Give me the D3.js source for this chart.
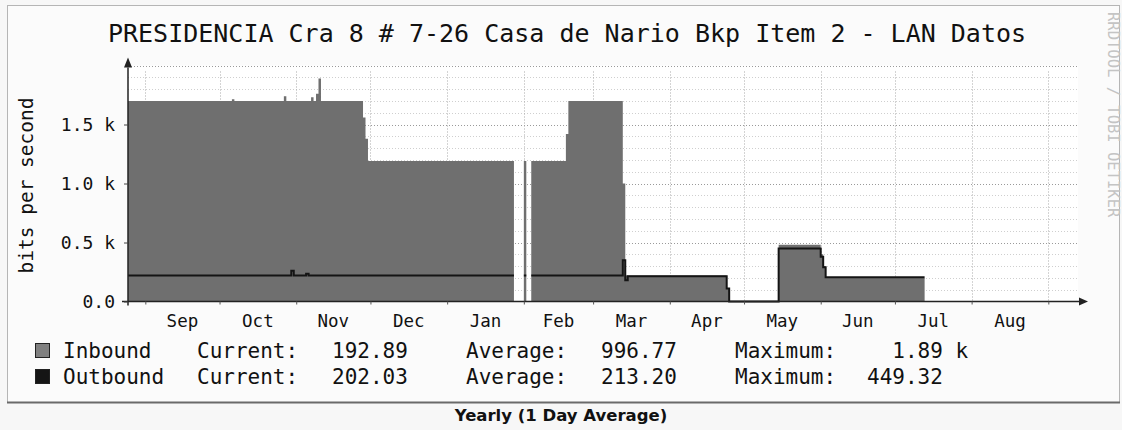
<!DOCTYPE html>
<html>
<head>
<meta charset="utf-8">
<script src="https://cdn.jsdelivr.net/npm/d3@7"></script>
<style>
  html, body { margin: 0; padding: 0; background: #f7f7f7; }
  svg { display: block; }
</style>
</head>
<body>
<div id="chart"></div>
<script>
// Yearly traffic graph (1 day average), values in bits per second
const title = 'PRESIDENCIA Cra 8 # 7-26 Casa de Nario Bkp Item 2 - LAN Datos';
const subtitle = 'Yearly (1 Day Average)';
const yLabel = 'bits per second';
const watermark = 'RRDTOOL / TOBI OETIKER';

const period = ['2012-08-25', '2013-09-13'];
const monthLabels = ['Sep', 'Oct', 'Nov', 'Dec', 'Jan', 'Feb', 'Mar', 'Apr', 'May', 'Jun', 'Jul', 'Aug'];
const yTicks = [0, 500, 1000, 1500];
const yTickLabels = ['0.0', '0.5 k', '1.0 k', '1.5 k'];

// step data: value holds from this date until the next entry (null = unknown)
const inboundSteps = [
  ['2012-08-25', 1700], ['2012-10-06', 1715], ['2012-10-07', 1700],
  ['2012-10-27', 1740], ['2012-10-28', 1700], ['2012-11-07', 1730],
  ['2012-11-08', 1700], ['2012-11-09', 1760], ['2012-11-10', 1890],
  ['2012-11-11', 1700], ['2012-11-28', 1560], ['2012-11-29', 1380],
  ['2012-11-30', 1190], ['2013-01-28', null], ['2013-02-01', 1190],
  ['2013-02-02', null], ['2013-02-04', 1190], ['2013-02-18', 1420],
  ['2013-02-19', 1700], ['2013-03-13', 1000], ['2013-03-14', 220],
  ['2013-04-24', 110], ['2013-04-25', 0], ['2013-05-15', 480],
  ['2013-06-01', 400], ['2013-06-02', 300], ['2013-06-03', 200],
  ['2013-07-13', null]
];
const outboundSteps = [
  ['2012-08-25', 220], ['2012-10-30', 260], ['2012-10-31', 220],
  ['2012-11-05', 235], ['2012-11-06', 220], ['2013-01-28', null],
  ['2013-02-01', 220], ['2013-02-02', null], ['2013-02-04', 220],
  ['2013-03-13', 350], ['2013-03-14', 180], ['2013-03-15', 215],
  ['2013-04-24', 110], ['2013-04-25', 0], ['2013-05-15', 449],
  ['2013-06-01', 380], ['2013-06-02', 290], ['2013-06-03', 205],
  ['2013-07-13', null]
];

const legendNames = ['Inbound', 'Outbound'];
const legendColors = ['#808080', '#151515'];
const currentVals = ['192.89', '202.03'];
const averageVals = ['996.77', '213.20'];
const maximumVals = ['  1.89 k', '449.32'];

const W = 1122, H = 430;
const plot = { left: 128, right: 1078, top: 65.5, bottom: 301.5 };
const mono = 'DejaVu Sans Mono, monospace';

const parse = d3.utcParse('%Y-%m-%d');

const svg = d3.select('#chart').append('svg')
  .attr('width', W).attr('height', H);

svg.append('rect').attr('width', W).attr('height', H).attr('fill', '#f7f7f7');

// frame
svg.append('rect')
  .attr('x', 7.5).attr('y', 5.5).attr('width', 1112).attr('height', 397)
  .attr('fill', '#fbfbfb').attr('stroke', '#b5b5b5');
svg.append('line')
  .attr('x1', 7).attr('x2', 1120).attr('y1', 402.5).attr('y2', 402.5)
  .attr('stroke', '#6a6a6a').attr('stroke-width', 2);

const x = d3.scaleUtc().domain(period.map(parse)).range([plot.left, plot.right]);
const y = d3.scaleLinear().domain([0, 2000]).range([plot.bottom, plot.top]);

svg.append('rect')
  .attr('x', plot.left).attr('y', plot.top)
  .attr('width', plot.right - plot.left).attr('height', plot.bottom - plot.top)
  .attr('fill', '#ffffff');

// grid
const g = svg.append('g');
d3.range(100, 2001, 100).forEach(v => {
  const major = v % 500 === 0;
  g.append('line')
    .attr('x1', plot.left).attr('x2', plot.right)
    .attr('y1', Math.round(y(v)) + 0.5).attr('y2', Math.round(y(v)) + 0.5)
    .attr('stroke', major ? '#9a9a9a' : '#cfcfcf')
    .attr('stroke-dasharray', '1,2');
});
const monthStarts = d3.utcMonth.range(...period.map(parse));
monthStarts.forEach(d => {
  g.append('line')
    .attr('x1', Math.round(x(d)) + 0.5).attr('x2', Math.round(x(d)) + 0.5)
    .attr('y1', plot.top + 6).attr('y2', plot.bottom)
    .attr('stroke', '#a8a8a8')
    .attr('stroke-dasharray', '1,2');
});

// step points from change lists
function stepPoints(steps) {
  const pts = [];
  steps.forEach((s, i) => {
    const t0 = parse(s[0]);
    if (s[1] === null || i === steps.length - 1) {
      pts.push({ t: t0, v: null });
      return;
    }
    const t1 = parse(steps[i + 1][0]);
    pts.push({ t: t0, v: s[1] }, { t: t1, v: s[1] });
  });
  return pts;
}

const inPts = stepPoints(inboundSteps);
const outPts = stepPoints(outboundSteps);

svg.append('path')
  .datum(inPts)
  .attr('d', d3.area()
    .defined(d => d.v !== null)
    .x(d => x(d.t)).y0(y(0)).y1(d => y(d.v)))
  .attr('fill', '#6f6f6f');

svg.append('path')
  .datum(outPts)
  .attr('d', d3.line()
    .defined(d => d.v !== null)
    .x(d => x(d.t)).y(d => y(d.v)))
  .attr('fill', 'none')
  .attr('stroke', '#141414')
  .attr('stroke-width', 2);

// axes
svg.append('line')
  .attr('x1', plot.left - 6).attr('x2', plot.right + 2)
  .attr('y1', plot.bottom).attr('y2', plot.bottom)
  .attr('stroke', '#222').attr('stroke-width', 1.5);
svg.append('path')
  .attr('d', `M${plot.right + 10},${plot.bottom} L${plot.right + 1},${plot.bottom - 4} L${plot.right + 1},${plot.bottom + 4} Z`)
  .attr('fill', '#222');
svg.append('line')
  .attr('x1', plot.left).attr('x2', plot.left)
  .attr('y1', plot.bottom + 4).attr('y2', plot.top + 2)
  .attr('stroke', '#222').attr('stroke-width', 1.5);
svg.append('path')
  .attr('d', `M${plot.left},${plot.top - 8} L${plot.left - 4},${plot.top + 2} L${plot.left + 4},${plot.top + 2} Z`)
  .attr('fill', '#222');

// x tick marks at month starts
svg.append('g')
  .attr('transform', `translate(0,${plot.bottom})`)
  .call(d3.axisBottom(x).tickValues(monthStarts).tickSize(3).tickFormat(''))
  .call(a => a.select('.domain').remove())
  .selectAll('line').attr('stroke', '#555');

// month labels centred in each month
svg.append('g').selectAll('text')
  .data(monthLabels)
  .join('text')
  .attr('x', (d, i) => (x(monthStarts[i]) + x(monthStarts[i + 1])) / 2)
  .attr('y', 327)
  .attr('text-anchor', 'middle')
  .attr('font-family', mono).attr('font-size', 17.5)
  .attr('fill', '#111')
  .text(d => d);

// y axis labels
svg.append('g')
  .attr('transform', `translate(${plot.left},0)`)
  .call(d3.axisLeft(y).tickValues(yTicks).tickSize(4).tickPadding(9)
    .tickFormat((d, i) => yTickLabels[i]))
  .call(a => a.select('.domain').remove())
  .call(a => a.selectAll('line').attr('stroke', '#444'))
  .selectAll('text')
  .attr('font-family', mono).attr('font-size', 18)
  .attr('fill', '#111');

svg.append('text')
  .attr('transform', `translate(33,${(plot.top + plot.bottom) / 2 + 2}) rotate(-90)`)
  .attr('text-anchor', 'middle')
  .attr('font-family', mono).attr('font-size', 19.5)
  .attr('fill', '#111')
  .text(yLabel);

// title
svg.append('text')
  .attr('x', 567).attr('y', 42)
  .attr('text-anchor', 'middle')
  .attr('font-family', mono).attr('font-size', 25)
  .attr('fill', '#111')
  .text(title);

// watermark
svg.append('text')
  .attr('transform', 'translate(1108,12) rotate(90)')
  .attr('font-family', mono).attr('font-size', 15.5)
  .attr('fill', '#c4c4c4')
  .text(watermark);

// legend
const cols = [63, 197, 332, 466, 601, 735, 867];
legendNames.forEach((name, i) => {
  const yy = 358 + i * 26;
  svg.append('rect')
    .attr('x', 35.5).attr('y', yy - 14.5).attr('width', 14).attr('height', 14)
    .attr('fill', legendColors[i]).attr('stroke', '#222');
  const row = [name, 'Current:', currentVals[i], 'Average:', averageVals[i], 'Maximum:', maximumVals[i]];
  row.forEach((t, j) => {
    svg.append('text')
      .attr('x', cols[j]).attr('y', yy)
      .attr('xml:space', 'preserve')
      .style('white-space', 'pre')
      .attr('font-family', mono).attr('font-size', 21)
      .attr('fill', '#111')
      .text(t);
  });
});

svg.append('text')
  .attr('x', 561).attr('y', 421)
  .attr('text-anchor', 'middle')
  .attr('font-family', 'DejaVu Sans, sans-serif').attr('font-weight', 'bold')
  .attr('font-size', 16.5)
  .attr('fill', '#111')
  .text(subtitle);
</script>
</body>
</html>
